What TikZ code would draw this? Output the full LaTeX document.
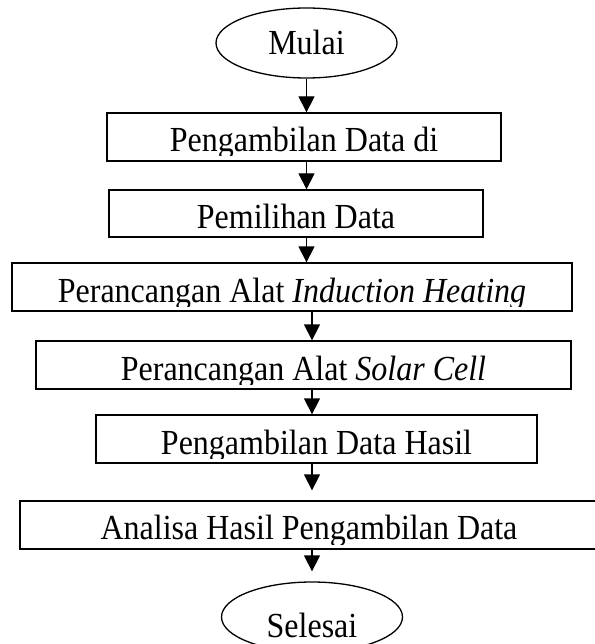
\documentclass[tikz,border=0pt]{standalone}
\usepackage{fontspec}
\usepackage{graphicx}
\setmainfont{Liberation Serif}
\usetikzlibrary{arrows.meta,shapes.geometric}

\begin{document}
\begin{tikzpicture}
  [x=1pt,y=-1pt,line width=1.3pt,font=\fontsize{32}{38}\selectfont,
   box/.style={draw,rectangle,inner sep=0pt},
   term/.style={draw,ellipse,inner sep=0pt,minimum width=181pt,minimum height=70pt},
   txt/.style 2 args={path picture={
     \clip ([yshift=5pt]path picture bounding box.south west) rectangle (path picture bounding box.north east);
     \node[anchor=base,inner sep=0pt] at ([yshift=#2]path picture bounding box.south) {\scalebox{1}[1.1]{#1}};}},
   arr/.style={-{Triangle[width=16pt,length=16pt]}}]
  \useasboundingbox (0,0) rectangle (594,644);

  \node[term,txt={Mulai}{23pt}] (mulai) at (306.5,43) {};
  \node[box,minimum width=394pt,minimum height=48pt,txt={Pengambilan Data di}{9pt}] (b1) at (304,137) {};
  \node[box,minimum width=374pt,minimum height=47pt,txt={Pemilihan Data}{9pt}] (b2) at (296,213.5) {};
  \node[box,minimum width=560pt,minimum height=48pt,txt={Perancangan Alat \textit{Induction Heating}}{9pt}] (b3) at (292,287) {};
  \node[box,minimum width=535pt,minimum height=48pt,txt={Perancangan Alat \textit{Solar Cell}}{9pt}] (b4) at (303.5,365) {};
  \node[box,minimum width=441pt,minimum height=48pt,txt={Pengambilan Data Hasil}{9pt}] (b5) at (316.5,439) {};
  \node[box,minimum width=578pt,minimum height=48pt,txt={Analisa Hasil Pengambilan Data}{10pt}] (b6) at (309,525) {};
  \node[term,txt={Selesai}{15pt}] (sel) at (312,617) {};

  \foreach \from/\to in {mulai/b1,b1/b2,b2/b3}
    \draw[arr] (\from.south -| mulai) -- (\to.north -| mulai);
  \foreach \from/\to in {b3/b4,b4/b5}
    \draw[arr] (\from.south -| sel) -- (\to.north -| sel);
  \foreach \from/\to in {b5/b6,b6/sel}
    \draw[arr,shorten >=10pt] (\from.south -| sel) -- (\to.north -| sel);
\end{tikzpicture}
\end{document}
